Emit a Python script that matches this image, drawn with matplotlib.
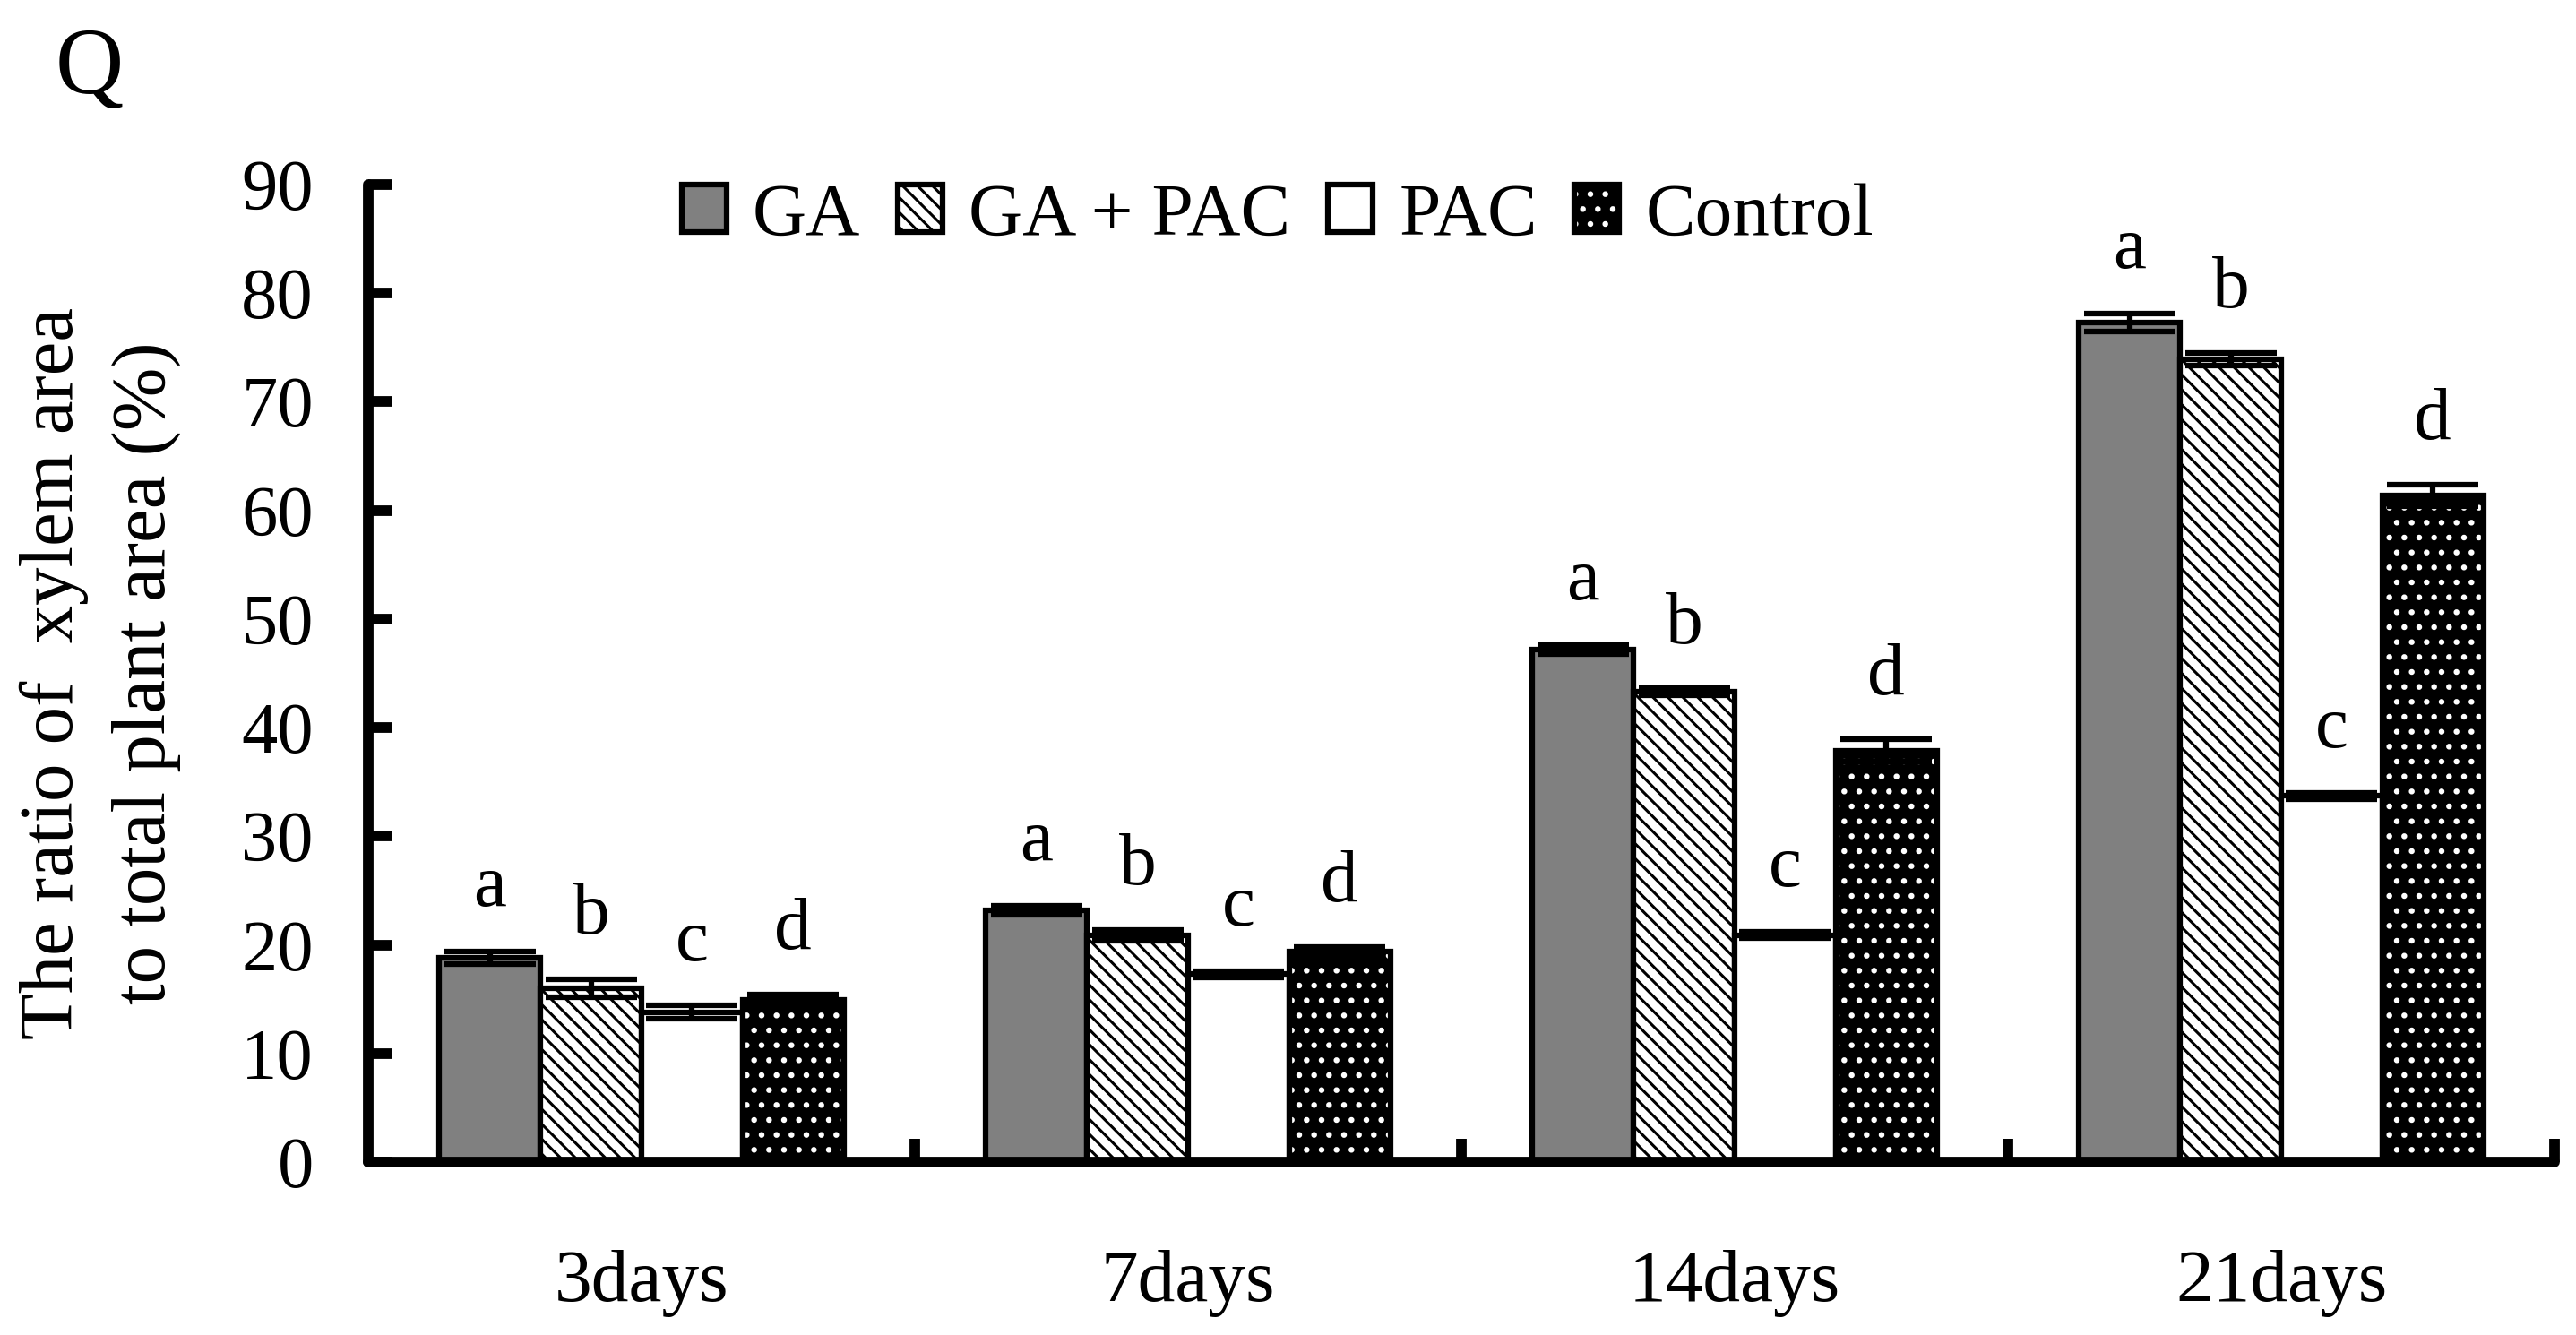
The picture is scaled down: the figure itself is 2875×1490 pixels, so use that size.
import numpy as np
from matplotlib import pyplot as plt
from matplotlib.ticker import FixedLocator

# values
days = ['3days', '7days', '14days', '21days']
treatments = ['GA', 'GA + PAC', 'PAC', 'Control']

ga = [18.8, 23.2, 47.2, 77.3]
ga_pac = [16.0, 20.9, 43.3, 73.9]
pac = [13.8, 17.3, 20.9, 33.7]
control = [14.9, 19.4, 37.9, 61.4]

ga_err = [0.6, 0.4, 0.4, 0.8]
ga_pac_err = [0.8, 0.5, 0.3, 0.6]
pac_err = [0.6, 0.3, 0.3, 0.3]
control_err = [0.5, 0.4, 1.0, 1.0]

letters = ['a', 'b', 'c', 'd']

plt.rcParams['font.family'] = ['Liberation Serif', 'DejaVu Serif']
plt.rcParams['hatch.linewidth'] = 2.2

W, H = 2875, 1490
fig = plt.figure(figsize=(W / 100, H / 100), dpi=100)
ax = fig.add_axes([411 / W, 1 - 1297 / H, (2851 - 411) / W, (1297 - 206) / H])

bar_w = 0.185
edge_lw = 4.5
centers = np.arange(len(days)) + 0.5

series = [ga, ga_pac, pac, control]
errors = [ga_err, ga_pac_err, pac_err, control_err]

handles = []
for j, (vals, errs) in enumerate(zip(series, errors)):
    x = centers + (j - 1.5) * bar_w
    if j == 0:
        b = ax.bar(x, vals, bar_w, color='#808080', edgecolor='black', linewidth=edge_lw, zorder=2)
        handles.append(b[0])
    elif j == 1:
        b = ax.bar(x, vals, bar_w, color='white', edgecolor='black', hatch='\\\\',
                   linewidth=edge_lw, zorder=2)
        handles.append(b[0])
    elif j == 2:
        b = ax.bar(x, vals, bar_w, color='white', edgecolor='black', linewidth=edge_lw, zorder=2)
        handles.append(b[0])
    else:
        # black bar with white dots, outline drawn on top
        dots = ax.bar(x, vals, bar_w, color='black', edgecolor='white', hatch='.',
                      linewidth=0, zorder=2)
        rim = ax.bar(x, vals, bar_w, fill=False, edgecolor='black', linewidth=edge_lw, zorder=2)
        handles.append((dots[0], rim[0]))
    ax.errorbar(x, vals, yerr=errs, fmt='none', ecolor='black', elinewidth=4.5,
                capsize=37, capthick=4.5, zorder=3)
    for xi, v, e in zip(x, vals, errs):
        ax.text(xi, v + e + 4.2, letters[j], ha='center', va='baseline', fontsize=60)

ax.set_xlim(0, 4)
ax.set_ylim(0, 90)
ax.set_yticks(np.arange(0, 91, 10))
ax.set_xticks(centers)
ax.set_xticklabels(days)
ax.xaxis.set_minor_locator(FixedLocator([1, 2, 3, 4]))

ax.tick_params(axis='y', direction='in', length=19, width=8.5, labelsize=58, pad=44)
ax.tick_params(axis='x', which='major', length=0, labelsize=60, pad=70)
ax.tick_params(axis='x', which='minor', direction='in', length=19, width=8.5)

for side in ['top', 'right']:
    ax.spines[side].set_visible(False)
for side in ['left', 'bottom']:
    ax.spines[side].set_linewidth(8.5)
    ax.spines[side].set_capstyle('round')

fig.text(112 / W, 1 - 751 / H, 'The ratio of  xylem area\nto total plant area (%)',
         rotation=90, ha='center', va='center', multialignment='center',
         fontsize=61, linespacing=1.45)

fig.text(100 / W, 1 - 104 / H, 'Q', ha='center', va='baseline', fontsize=76)

ax.legend(handles, treatments, ncol=4, frameon=False, fontsize=60,
          handlelength=0.6, handleheight=0.6, handletextpad=0.35, columnspacing=0.5,
          borderpad=0, loc='center', bbox_to_anchor=(1426 / W, 1 - 242 / H),
          bbox_transform=fig.transFigure)

fig.savefig('out.png', dpi=100)
